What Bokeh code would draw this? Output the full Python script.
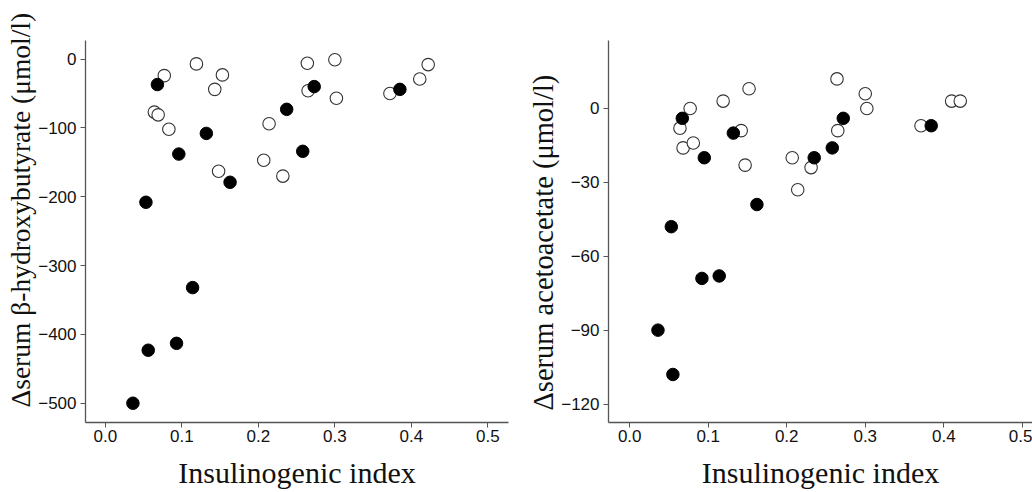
from bokeh.plotting import figure
from bokeh.layouts import row
from bokeh.models import FixedTicker, Title
from bokeh.embed import file_html
from bokeh.resources import INLINE

# ---- data: left panel (delta serum beta-hydroxybutyrate) ----
bhb_filled_x = [0.068, 0.132, 0.096, 0.163, 0.053, 0.237, 0.258, 0.273, 0.385, 0.114, 0.056, 0.093, 0.036]
bhb_filled_y = [-37, -108, -138, -179, -208, -73, -134, -40, -44, -332, -423, -413, -500]
bhb_open_x = [0.077, 0.119, 0.153, 0.143, 0.064, 0.069, 0.083, 0.148, 0.214, 0.207, 0.232, 0.264,
              0.265, 0.300, 0.302, 0.372, 0.411, 0.422]
bhb_open_y = [-24, -7, -23, -44, -77, -81, -102, -163, -94, -147, -170, -6,
              -46, -1, -57, -50, -29, -8]

# ---- data: right panel (delta serum acetoacetate) ----
aa_filled_x = [0.067, 0.095, 0.132, 0.162, 0.053, 0.235, 0.258, 0.272, 0.384, 0.092, 0.114, 0.036, 0.055]
aa_filled_y = [-4, -20, -10, -39, -48, -20, -16, -4, -7, -69, -68, -90, -108]
aa_open_x = [0.064, 0.068, 0.081, 0.077, 0.119, 0.152, 0.142, 0.147, 0.207, 0.214, 0.231, 0.264,
             0.265, 0.300, 0.302, 0.371, 0.410, 0.421]
aa_open_y = [-8, -16, -14, 0, 3, 8, -9, -23, -20, -33, -24, 12,
             -9, 6, 0, -7, 3, 3]

x_ticks = [0.0, 0.1, 0.2, 0.3, 0.4, 0.5]
x_tick_labels = ["0.0", "0.1", "0.2", "0.3", "0.4", "0.5"]
bhb_ticks = [0, -100, -200, -300, -400, -500]
bhb_tick_labels = ["0", "\u2212100", "\u2212200", "\u2212300", "\u2212400", "\u2212500"]
aa_ticks = [0, -30, -60, -90, -120]
aa_tick_labels = ["0", "\u221230", "\u221260", "\u221290", "\u2212120"]

x_label = "Insulinogenic index"
bhb_label = "\u0394serum \u03b2-hydroxybutyrate (\u03bcmol/l)"
aa_label = "\u0394serum acetoacetate (\u03bcmol/l)"

AXIS_COLOR = "#555555"
TEXT_COLOR = "#111111"


def make_panel(width, height, bl, br, bt, bb, xr, yr, xt, xtl, yt, ytl,
               fx, fy, ox, oy):
    p = figure(width=width, height=height, x_range=xr, y_range=yr,
               output_backend="svg", toolbar_location=None,
               min_border_left=bl, min_border_right=br,
               min_border_top=bt, min_border_bottom=bb)
    p.outline_line_color = None
    p.grid.visible = False
    p.background_fill_color = "white"
    p.border_fill_color = "white"
    for ax in (p.xaxis[0], p.yaxis[0]):
        ax.axis_line_color = AXIS_COLOR
        ax.axis_line_width = 1.3
        ax.major_tick_line_color = AXIS_COLOR
        ax.major_tick_in = 0
        ax.major_tick_out = 5
        ax.minor_tick_line_color = None
        ax.major_label_text_font = "Liberation Sans"
        ax.major_label_text_font_size = "17px"
        ax.major_label_text_color = TEXT_COLOR
        ax.axis_label_text_font = "Liberation Serif"
        ax.axis_label_text_font_style = "normal"
        ax.axis_label_text_color = "#111111"
    p.xaxis[0].ticker = FixedTicker(ticks=xt)
    p.xaxis[0].major_label_overrides = dict(zip(xt, xtl))
    p.yaxis[0].ticker = FixedTicker(ticks=yt)
    p.yaxis[0].major_label_overrides = dict(zip(yt, ytl))
    p.xaxis[0].axis_label = x_label
    p.xaxis[0].axis_label_text_font_size = "30px"
    p.xaxis[0].axis_label_standoff = 11
    p.xaxis[0].major_label_standoff = 2
    p.yaxis[0].major_label_standoff = 4

    p.scatter(ox, oy, size=12.5, marker="circle", fill_color="white",
              line_color="#333333", line_width=1.1)
    p.scatter(fx, fy, size=12.5, marker="circle", fill_color="black",
              line_color="black", line_width=1)
    return p


def add_ylabel(p, text, size, offset, standoff):
    p.add_layout(Title(text=text, align="left", offset=offset,
                       standoff=standoff, text_font="Liberation Serif",
                       text_font_size=size, text_font_style="normal",
                       text_color="#111111"), "left")


p1 = make_panel(520, 492, 85, 12, 36, 70, (-0.026, 0.527), (-528, 27),
                x_ticks, x_tick_labels, bhb_ticks, bhb_tick_labels,
                bhb_filled_x, bhb_filled_y, bhb_open_x, bhb_open_y)
add_ylabel(p1, bhb_label, "27.5px", 15, 0)

p2 = make_panel(512, 492, 88, 0, 40, 68, (-0.027, 0.513), (-127.5, 27.6),
                x_ticks, x_tick_labels, aa_ticks, aa_tick_labels,
                aa_filled_x, aa_filled_y, aa_open_x, aa_open_y)
add_ylabel(p2, aa_label, "28.5px", 12, 0)

layout = row(p1, p2)
open("out.html", "w").write(file_html(layout, INLINE))
